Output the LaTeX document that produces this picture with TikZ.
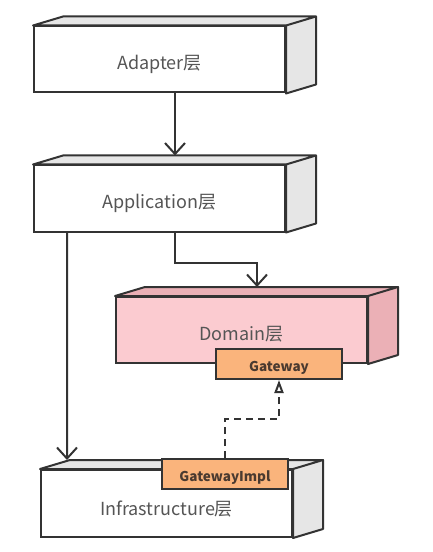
\documentclass[tikz,border=0pt]{standalone}
\usepackage{fontspec}
\setmainfont{Noto Sans CJK SC}
\usepackage{tikz}
\usetikzlibrary{arrows.meta}
\definecolor{edge}{HTML}{333333}
\definecolor{labelgrey}{HTML}{555555}
\definecolor{sidegrey}{HTML}{E6E6E6}
\definecolor{frontpink}{HTML}{FBCBD0}
\definecolor{sidepink}{HTML}{EBB0B6}
\definecolor{portorange}{HTML}{FAB47C}
\definecolor{porttext}{HTML}{4A3A30}

\begin{document}
\begin{tikzpicture}[x=1bp,y=-1bp]
                \tikzstyle{every node}=[rectangle,draw=edge,line width=2bp,inner sep=0pt]
                \tikzstyle{layer}=[fill=white,minimum width=251bp,minimum height=66bp,text=labelgrey,text height=20bp,text depth=0bp,font=\fontsize{18bp}{20bp}\selectfont]
                \tikzstyle{port}=[fill=portorange,minimum width=126bp,minimum height=30bp,text=porttext,text height=15bp,text depth=0bp,font=\fontsize{13.5bp}{15bp}\selectfont\bfseries]
                \tikzstyle{arr}=[draw=edge,line width=2bp,-{Straight Barb[length=11bp,width=20bp]}]
                \useasboundingbox (0,0) rectangle (433,552);

                \node[layer] (adapter) at (159.5,59.5) {Adapter层};
                \node[layer] (app) at (159.5,198.5) {Application层};
                \node[layer,fill=frontpink] (dom) at (241.5,330) {Domain层};
                \node[layer,minimum height=67bp] (infra) at (166.5,503.5) {};

                % top and right faces of the boxes
                \foreach \b/\c in {adapter/sidegrey,app/sidegrey,dom/sidepink,infra/sidegrey} {
                    \filldraw[fill=\c,draw=edge,line width=2bp,line join=round]
                        (\b.north west) -- ++(30,-9) -- ([shift={(30,-9)}]\b.north east) -- (\b.north east) -- cycle
                        (\b.north east) -- ([shift={(30,-9)}]\b.north east) -- ([shift={(30,-9)}]\b.south east) -- (\b.south east) -- cycle;
                }

                \node[layer,draw=none,fill=none] (infralabel) at (166.5,505) {Infrastructure层};
                \node[port] (gw) at (279,364) {Gateway};
                \node[port] (impl) at (225,474) {GatewayImpl};

                \draw[arr] ([xshift=15.5bp]adapter.south) -- ([xshift=15.5bp,yshift=9bp]app.north);
                \draw[arr] ([xshift=15.5bp]app.south) -- ++(0,30) -| ([xshift=15.5bp,yshift=9bp]dom.north);
                \draw[arr] ([xshift=34bp]app.south west) -- ([xshift=27bp,yshift=9bp]infra.north west);
                \draw[draw=edge,line width=2bp,dash pattern=on 7bp off 5bp,-{Triangle[open,length=13bp,width=9bp]}]
                    (impl.north) -- ++(0,-39) -| (gw.south);
            \end{tikzpicture}
\end{document}
